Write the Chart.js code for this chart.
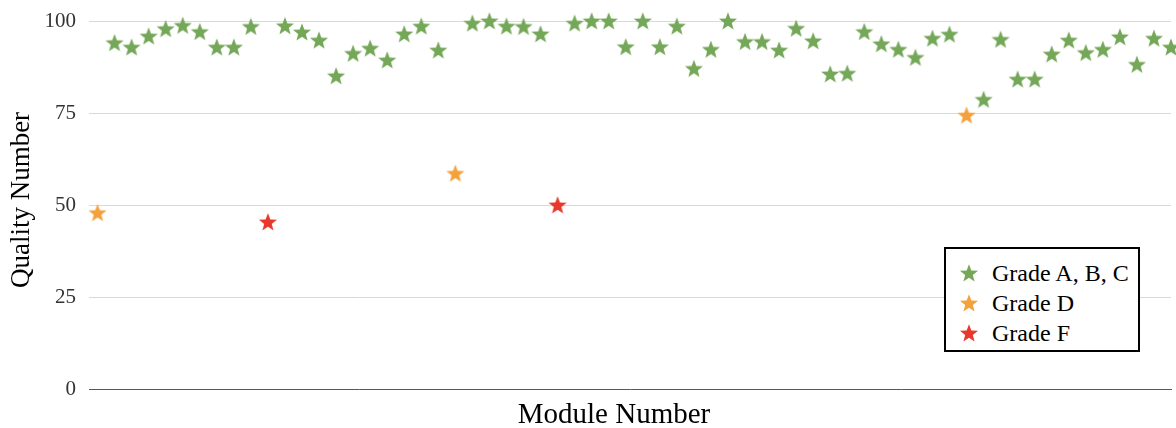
<!DOCTYPE html>
<html lang="en">
<head>
    <meta charset="UTF-8">
    <title>Quality Number by Module</title>
    <script src="https://cdn.jsdelivr.net/npm/chart.js"></script>
    <style>
        body {
            margin: 0;
            background: #ffffff;
            font-family: 'Liberation Serif', serif;
        }
        #chart-container {
            position: relative;
            width: 1176px;
            height: 428px;
        }
        #legend {
            position: absolute;
            left: 944px;
            top: 247px;
            width: 196px;
            height: 105px;
            box-sizing: border-box;
            border: 2px solid #000;
            padding-top: 9px;
            background: #fff;
        }
        .legend-row {
            display: flex;
            align-items: center;
            height: 30px;
            font-size: 24px;
            color: #000;
        }
        .legend-row img {
            margin-left: 13px;
            margin-right: 13px;
        }
    </style>
</head>
<body>
    <div id="chart-container">
        <canvas id="qualityChart"></canvas>
        <div id="legend"></div>
    </div>

    <script>
        const modules = [1, 2, 3, 4, 5, 6, 7, 8, 9, 10, 11, 12, 13, 14, 15, 16,
            17, 18, 19, 20, 21, 22, 23, 24, 25, 26, 27, 28, 29, 30, 31, 32,
            33, 34, 35, 36, 37, 38, 39, 40, 41, 42, 43, 44, 45, 46, 47, 48,
            49, 50, 51, 52, 53, 54, 55, 56, 57, 58, 59, 60, 61, 62, 63, 64];

        const qualityNumbers = [47.9, 94.1, 92.9, 95.9, 97.9, 98.8, 97.1, 92.9, 92.9, 98.5, 45.4, 98.7, 97.0, 94.8, 85.1, 91.2,
            92.6, 89.4, 96.5, 98.6, 92.1, 58.6, 99.4, 100, 98.6, 98.5, 96.5, 50.0, 99.4, 100, 100, 93.0,
            100, 93.0, 98.6, 87.1, 92.3, 100, 94.4, 94.4, 92.1, 98.0, 94.6, 85.6, 85.8, 97.1, 93.8, 92.3,
            90.1, 95.3, 96.4, 74.4, 78.7, 95.0, 84.2, 84.2, 91.0, 94.8, 91.4, 92.3, 95.7, 88.2, 95.3, 92.9];

        const grades = ['D', 'ABC', 'ABC', 'ABC', 'ABC', 'ABC', 'ABC', 'ABC', 'ABC', 'ABC', 'F', 'ABC', 'ABC', 'ABC', 'ABC', 'ABC',
            'ABC', 'ABC', 'ABC', 'ABC', 'ABC', 'D', 'ABC', 'ABC', 'ABC', 'ABC', 'ABC', 'F', 'ABC', 'ABC', 'ABC', 'ABC',
            'ABC', 'ABC', 'ABC', 'ABC', 'ABC', 'ABC', 'ABC', 'ABC', 'ABC', 'ABC', 'ABC', 'ABC', 'ABC', 'ABC', 'ABC', 'ABC',
            'ABC', 'ABC', 'ABC', 'D', 'ABC', 'ABC', 'ABC', 'ABC', 'ABC', 'ABC', 'ABC', 'ABC', 'ABC', 'ABC', 'ABC', 'ABC'];

        const seriesKeys = ['ABC', 'D', 'F'];
        const seriesLabels = ['Grade A, B, C', 'Grade D', 'Grade F'];
        const seriesColors = ['#74a758', '#f4a13b', '#e8372b'];

        const yTicks = [0, 25, 50, 75, 100];

        const fontFamily = "'Liberation Serif', serif";

        // filled 5-point star drawn once per colour, used as the point image
        function makeStar(color) {
            const size = 20, r = 9.5, inner = r * 0.42;
            const c = document.createElement('canvas');
            c.width = size;
            c.height = size;
            const ctx = c.getContext('2d');
            ctx.translate(size / 2, size / 2 + 0.8);
            ctx.beginPath();
            for (let i = 0; i < 10; i++) {
                const rad = i % 2 === 0 ? r : inner;
                const a = -Math.PI / 2 + i * Math.PI / 5;
                const px = Math.cos(a) * rad, py = Math.sin(a) * rad;
                if (i === 0) ctx.moveTo(px, py); else ctx.lineTo(px, py);
            }
            ctx.closePath();
            ctx.fillStyle = color;
            ctx.fill();
            return c;
        }

        const starImages = seriesColors.map(makeStar);

        const datasets = seriesKeys.map((key, s) => ({
            label: seriesLabels[s],
            data: modules
                .map((m, i) => ({ x: m, y: qualityNumbers[i], g: grades[i] }))
                .filter(p => p.g === key),
            pointStyle: starImages[s],
            backgroundColor: seriesColors[s],
            borderColor: seriesColors[s],
            clip: false
        }));

        // axis titles sit a little off-centre in the original, so draw them here
        const axisTitles = {
            id: 'axisTitles',
            afterDraw(chart) {
                const ctx = chart.ctx;
                ctx.save();
                ctx.fillStyle = '#000';
                ctx.textAlign = 'center';
                ctx.textBaseline = 'alphabetic';
                ctx.font = `29px ${fontFamily}`;
                ctx.fillText('Module Number', 614, 423);
                ctx.translate(29, 200);
                ctx.rotate(-Math.PI / 2);
                ctx.font = `27px ${fontFamily}`;
                ctx.fillText('Quality Number', 0, 0);
                ctx.restore();
            }
        };

        new Chart(document.getElementById('qualityChart'), {
            type: 'scatter',
            data: { datasets },
            plugins: [axisTitles],
            options: {
                responsive: true,
                maintainAspectRatio: false,
                animation: false,
                events: [],
                layout: { padding: { top: 21, right: 0, bottom: 0, left: 0 } },
                plugins: {
                    legend: { display: false },
                    tooltip: { enabled: false }
                },
                scales: {
                    x: {
                        type: 'linear',
                        min: 0.5,
                        max: 64.0,
                        grid: { display: false },
                        border: { display: true, color: '#595959', width: 1 },
                        ticks: { display: false },
                        afterFit: scale => { scale.height = 39; }
                    },
                    y: {
                        min: 0,
                        max: 100,
                        afterBuildTicks: scale => { scale.ticks = yTicks.map(v => ({ value: v })); },
                        grid: {
                            color: ctx => ctx.tick.value === 0 ? 'rgba(0,0,0,0)' : '#d9d9d9',
                            lineWidth: 1,
                            drawTicks: false
                        },
                        border: { display: false },
                        ticks: {
                            padding: 13,
                            color: '#333',
                            font: { family: fontFamily, size: 21 }
                        },
                        afterFit: scale => {
                            scale.width = 89;
                            // labels may hang over the top; keep the 100 line where it is
                            scale.paddingTop = 0;
                            scale.paddingBottom = 0;
                        }
                    }
                }
            }
        });

        // legend box, built from the same series arrays
        const legend = document.getElementById('legend');
        seriesLabels.forEach((label, s) => {
            const row = document.createElement('div');
            row.className = 'legend-row';
            const img = document.createElement('img');
            img.src = starImages[s].toDataURL();
            img.width = 20;
            img.height = 20;
            const text = document.createElement('span');
            text.textContent = label;
            row.appendChild(img);
            row.appendChild(text);
            legend.appendChild(row);
        });
    </script>
</body>
</html>
